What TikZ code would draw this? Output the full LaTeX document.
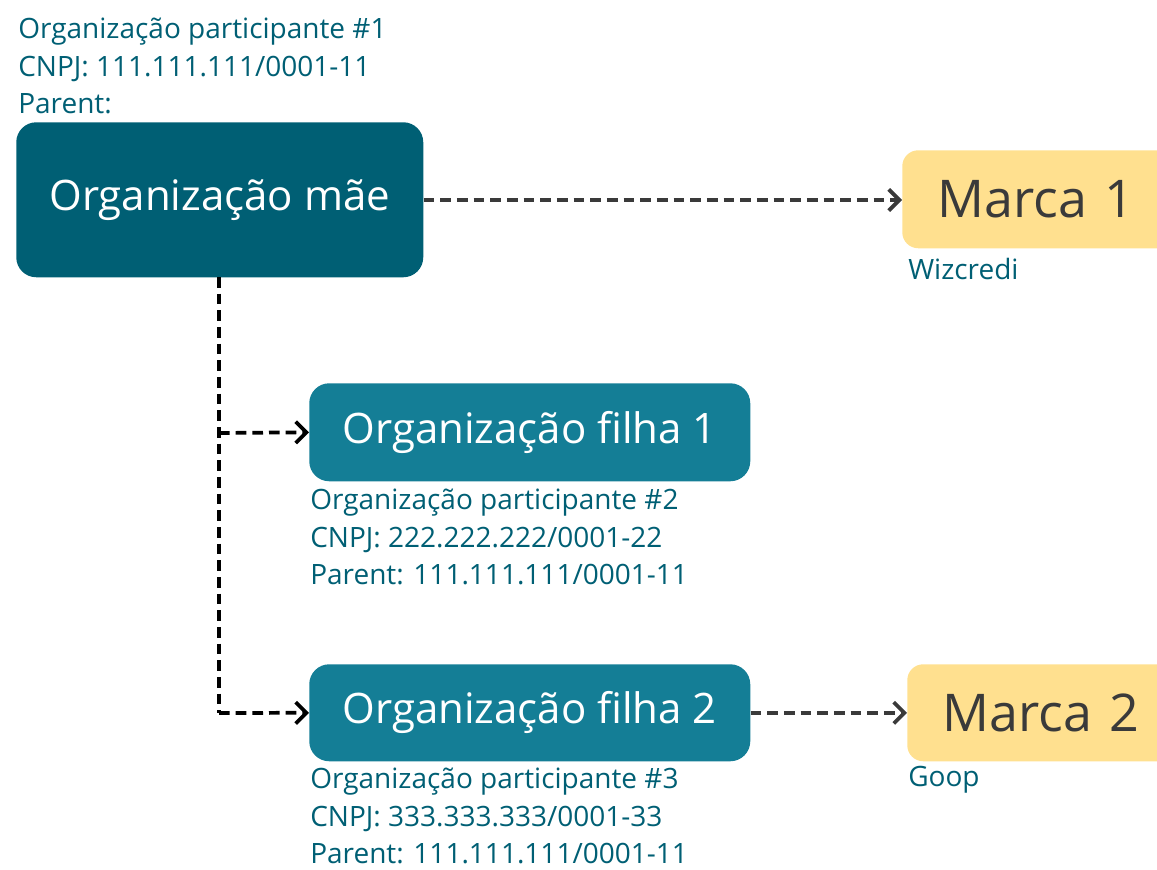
\documentclass[tikz,border=0pt]{standalone}
\usepackage{fontspec}
\setmainfont{Open Sans}
\usetikzlibrary{arrows.meta}
\definecolor{maeC}{HTML}{005F74}
\definecolor{filhaC}{HTML}{147E96}
\definecolor{marcaC}{HTML}{FFE08F}
\definecolor{labC}{HTML}{005F74}
\definecolor{arrC}{HTML}{3A3A3A}
\tikzset{
  orgbox/.style={rounded corners=15pt, inner sep=0pt, text=white, anchor=north west, font=\fontsize{31.5pt}{38pt}\selectfont},
  marcabox/.style={fill=marcaC, rounded corners=12pt, inner ysep=0pt, inner xsep=35*0.75pt, text width=230*0.75pt, align=left, text=arrC, anchor=north west, font=\fontsize{39pt}{46pt}\selectfont},
  lab/.style={text=labC, anchor=north west, inner sep=0pt, align=left, font=\fontsize{21pt}{28pt}\selectfont},
  dashline/.style={line width=2.8pt, dash pattern=on 8pt off 4.5pt},
  conn/.style={dashline, -{Straight Barb[length=8pt,width=16pt,line width=2.8pt]}},
}
\begin{document}
\begin{tikzpicture}[x=0.75pt,y=-0.75pt]
\useasboundingbox (0,0) rectangle (1157,869);
% boxes
\node[orgbox, fill=maeC, minimum width=407*0.75pt, minimum height=155*0.75pt] (mae) at (16,122) {Organização mãe};
\node[orgbox, fill=filhaC, minimum width=441*0.75pt, minimum height=98*0.75pt] (f1) at (309,383) {Organização filha 1};
\node[orgbox, fill=filhaC, minimum width=441*0.75pt, minimum height=97*0.75pt] (f2) at (309,664) {Organização filha 2};
\node[marcabox, minimum height=98*0.75pt] (m1) at (902,150) {Marca 1};
\node[marcabox, minimum height=97*0.75pt] (m2) at (907,664) {Marca 2};
% labels
\node[lab] (l0) at (18,18) {Organização participante \#1\\CNPJ: 111.111.111/0001-11\\Parent:};
\node[lab] (l1) at (310,489) {Organização participante \#2\\CNPJ: 222.222.222/0001-22\\Parent: 111.111.111/0001-11};
\node[lab] (l2) at (310,768) {Organização participante \#3\\CNPJ: 333.333.333/0001-33\\Parent: 111.111.111/0001-11};
\node[lab] (w) at (908,258) {Wizcredi};
\node[lab] (g) at (908,766) {Goop};
% connectors
\coordinate (top) at (219,277);
\coordinate (j1) at (219,433);
\coordinate (j2) at (219,713);
\draw[conn, draw=arrC] (mae.east |- 0,200) -- (m1.west |- 0,200);
\draw[conn, draw=arrC] (f2.east) -- (m2.west);
\draw[dashline, black] (top) -- (j2);
\draw[conn, black] (j2) -- (f2.west);
\draw[conn, black] (j1) -- (f1.west);
\end{tikzpicture}
\end{document}
